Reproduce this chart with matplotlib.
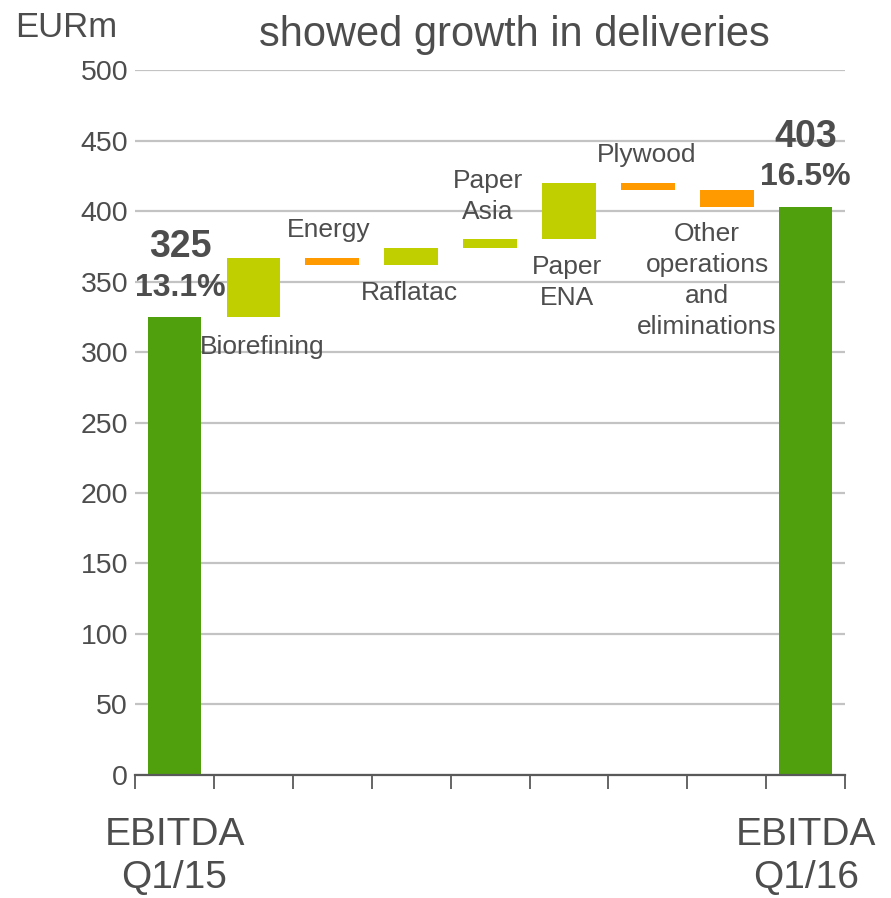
import numpy as np
import matplotlib
matplotlib.use("Agg")
import matplotlib.pyplot as plt

plt.rcParams['font.family'] = ['Liberation Sans', 'DejaVu Sans']

# EBITDA bridge Q1/15 -> Q1/16, EUR million
start_label = "EBITDA\nQ1/15"
end_label = "EBITDA\nQ1/16"
start_value = 325
end_value = 403
start_margin = "13.1%"
end_margin = "16.5%"

segments = ["Biorefining", "Energy", "Raflatac", "Paper\nAsia", "Paper\nENA",
            "Plywood", "Other\noperations\nand\neliminations"]
changes = [42, -5, 12, 6, 40, -5, -12]

y_ticks = [0, 50, 100, 150, 200, 250, 300, 350, 400, 450, 500]

TEXT = "#4d4d4d"
DARK_GREEN = "#50a00e"
LIGHT_GREEN = "#bfcf00"
ORANGE = "#ff9a00"
GRID = "#c3c3c3"
AXIS = "#595959"

fig = plt.figure(figsize=(8.91, 8.98), dpi=100)
ax = fig.add_axes([0.1515, 0.137, 0.797, 0.785])

n = len(segments) + 2
x = np.arange(n)
width = 0.68

# totals
ax.bar([0, n - 1], [start_value, end_value], width=width, color=DARK_GREEN, zorder=3)

# floating change bars
running = start_value
for i, d in enumerate(changes):
    bottom = running if d >= 0 else running + d
    color = LIGHT_GREEN if d >= 0 else ORANGE
    ax.bar(i + 1, abs(d), bottom=bottom, width=width, color=color, zorder=3)
    running += d

ax.set_xlim(-0.5, n - 0.5)
ax.set_ylim(0, 500)
ax.set_yticks(y_ticks)
ax.set_yticklabels([str(v) for v in y_ticks], fontsize=20.5, color=TEXT)
ax.yaxis.grid(True, color=GRID, linewidth=1.6, zorder=0)
ax.tick_params(axis='y', length=0, pad=5)

# category boundary ticks below the axis
ax.set_xticks(np.arange(-0.5, n, 1.0))
ax.set_xticklabels([])
ax.tick_params(axis='x', direction='out', length=10, width=1.3, color=AXIS)

for s in ['left', 'right', 'top']:
    ax.spines[s].set_visible(False)
ax.spines['bottom'].set_color(AXIS)
ax.spines['bottom'].set_linewidth(1.6)
ax.spines['bottom'].set_zorder(4)

# end labels below the axis
for xi, lab in [(0, start_label), (n - 1, end_label)]:
    ax.text(xi, -0.06, lab, transform=ax.get_xaxis_transform(), ha='center',
            va='top', fontsize=28, color=TEXT, linespacing=1.25)

# segment labels
label_pos = [(1.11, 303.5), (1.95, 386.5), (2.98, 341.8), (3.97, 410.6),
             (4.97, 349.3), (5.98, 439.7), (6.75, 350.7)]
for lab, (lx, ly) in zip(segments, label_pos):
    ax.text(lx, ly, lab, ha='center', va='center', fontsize=19, color=TEXT,
            linespacing=1.37, zorder=5)

# totals and margins
ax.text(0.07, 374.5, str(start_value), ha='center', va='center', fontsize=27,
        fontweight='bold', color=TEXT)
ax.text(0.07, 345.4, start_margin, ha='center', va='center', fontsize=23,
        fontweight='bold', color=TEXT)
ax.text(n - 1, 452.5, str(end_value), ha='center', va='center', fontsize=27,
        fontweight='bold', color=TEXT)
ax.text(n - 1, 424, end_margin, ha='center', va='center', fontsize=23,
        fontweight='bold', color=TEXT)

fig.text(0.017, 0.969, "EURm", ha='left', va='center', fontsize=25, color=TEXT)
fig.text(0.577, 0.961, "showed growth in deliveries", ha='center', va='center',
         fontsize=30, color=TEXT)

fig.savefig("out.png", dpi=100)
